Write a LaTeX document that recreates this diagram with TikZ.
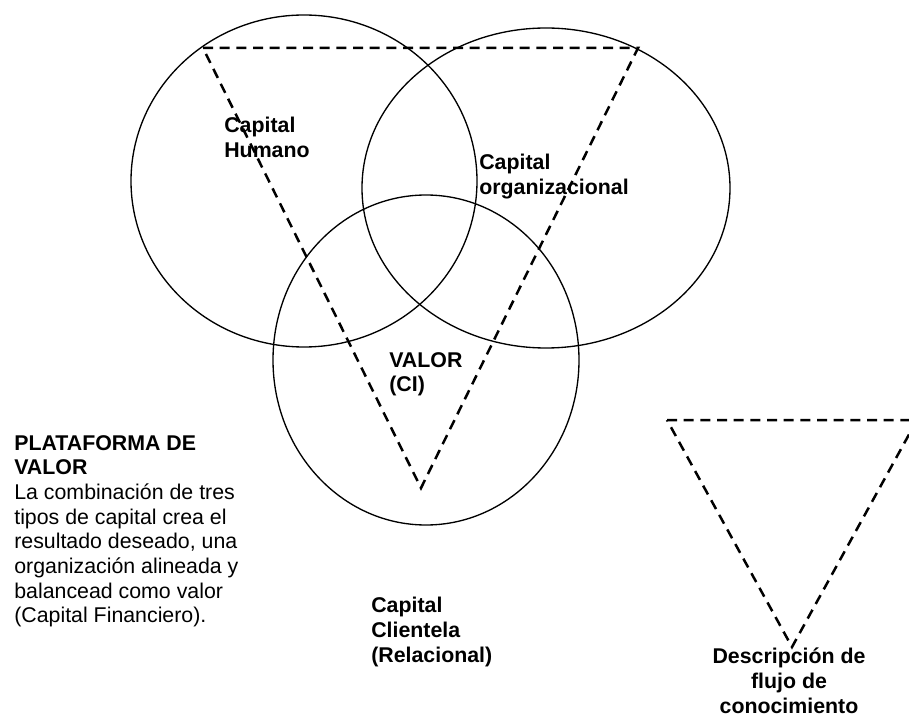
\documentclass[tikz,border=0pt]{standalone}
\usepackage{fontspec}
\setmainfont{Liberation Sans}
\usepackage{tikz}
\usetikzlibrary{positioning}
\tikzset{circ/.style={draw,line width=0.8pt},
  flow/.style={line width=1.5pt,dash pattern=on 6pt off 4pt},
  lbl/.style={font=\fontsize{12.8}{14.8}\selectfont\bfseries,align=left,inner sep=0pt,anchor=north west},
  body/.style={font=\fontsize{12.8}{14.8}\selectfont,align=left,inner sep=0pt,anchor=north west}}

\begin{document}
\begin{tikzpicture}[x=0.6pt,y=-0.6pt]
\useasboundingbox (0,0) rectangle (909,715);
% three capitals
\draw[circ] (304,181) ellipse [x radius=173,y radius=166];
\draw[circ] (546,188) ellipse [x radius=184,y radius=160];
\draw[circ] (426,360) ellipse [x radius=153,y radius=165];
% value triangle
\coordinate (tl) at (203,48);
\coordinate (tr) at (638,48);
\coordinate (tb) at (421,488);
\draw[flow] (tl) -- (tr) -- (tb) -- cycle;
\node[lbl] (humano) at (224,117) {Capital\\Humano};
\node[lbl] (organiz) at (479,154) {Capital\\organizacional};
\node[lbl] (valor) at (389,352) {VALOR\\(CI)};
\node[lbl] (clientela) at (371,597) {Capital\\Clientela\\(Relacional)};
\node[body] (plataforma) at (14,435) {\textbf{PLATAFORMA DE}\\\textbf{VALOR}\\La combinación de tres\\tipos de capital crea el\\resultado deseado, una\\organización alineada y\\balancead como valor\\(Capital Financiero).};
% knowledge flow
\coordinate (fl) at (667,420);
\coordinate (fr) at (917,420);
\coordinate (fb) at (792,647);
\draw[flow] (fl) -- (fr) -- (fb) -- cycle;
\node[lbl,align=center,anchor=north] (flujo) at (789,648) {Descripción de\\flujo de\\conocimiento};
\end{tikzpicture}
\end{document}
